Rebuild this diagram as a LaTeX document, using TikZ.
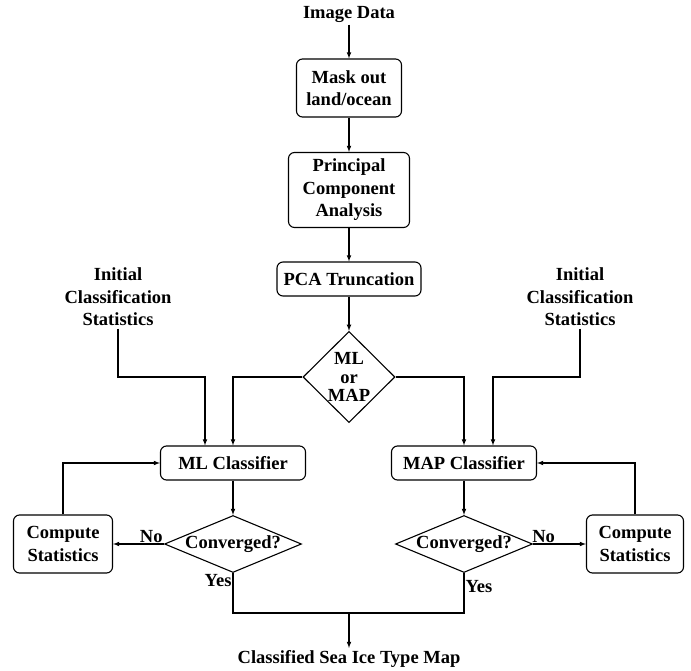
\documentclass[tikz,border=0pt]{standalone}
\usepackage{fontspec}
\setmainfont{Liberation Serif}
\usepackage{tikz}
\usetikzlibrary{shapes.geometric}

\begin{document}
\begin{tikzpicture}[x=1pt, y=-1pt, >=latex, line width=1.1pt,
  txt/.style={font=\fontsize{18.5}{22.5}\selectfont\bfseries, align=center, inner sep=2pt},
  box/.style={txt, draw, rounded corners=6pt, minimum height=34pt},
  choice/.style={txt, draw, diamond, inner sep=0pt, font=\fontsize{18.5}{18.5}\selectfont\bfseries},
  lbl/.style={txt, inner sep=1pt}]
\useasboundingbox (0,0) rectangle (691,671);
\node[txt] (data) at (349,14) {Image Data};
\node[box, minimum width=105pt, minimum height=58pt] (mask) at (349,88) {Mask out\\land/ocean};
\node[box, minimum width=121pt, minimum height=75pt] (pca) at (349,190) {Principal\\Component\\Analysis};
\node[box, minimum width=144pt] (trunc) at (349,279) {PCA Truncation};
\node[choice, minimum width=92pt, minimum height=90pt] (mlmap) at (349,377) {ML\\or\\MAP};
\node[txt] (linit) at (118,297) {Initial\\Classification\\Statistics};
\node[txt] (rinit) at (580,297) {Initial\\Classification\\Statistics};
\node[box, minimum width=145pt] (ml) at (233,463) {ML Classifier};
\node[box, minimum width=145pt] (map) at (464,463) {MAP Classifier};
\node[choice, aspect=2.4, minimum width=137pt, minimum height=57pt] (lconv) at (233,544) {Converged?};
\node[choice, aspect=2.4, minimum width=137pt, minimum height=57pt] (rconv) at (464,544) {Converged?};
\node[box, minimum width=99pt, minimum height=58pt] (lstat) at (63,544) {Compute\\Statistics};
\node[box, minimum width=97pt, minimum height=58pt] (rstat) at (635,544) {Compute\\Statistics};
\coordinate (join) at (349,613);
\node[txt] (res) at (349,659) {Classified Sea Ice Type Map};
\draw[->] (data) -- (mask);
\draw[->] (mask) -- (pca);
\draw[->] (pca) -- (trunc);
\draw[->] (trunc) -- (mlmap);
\draw[->] (mlmap.west) -| (ml.north);
\draw[->] (mlmap.east) -| (map.north);
\draw[->] (linit.south) |- ([xshift=-28pt]ml.north |- mlmap.west) -- ([xshift=-28pt]ml.north);
\draw[->] (rinit.south) |- ([xshift=29pt]map.north |- mlmap.east) -- ([xshift=29pt]map.north);
\draw[->] (ml) -- (lconv);
\draw[->] (map) -- (rconv);
\draw[->] (lconv.west) -- (lstat.east) node[lbl, pos=0.25, above] (lno) {No};
\draw[->] (rconv.east) -- (rstat.west) node[lbl, pos=0.2, above] (rno) {No};
\draw[->] (lstat.north) |- (ml.west);
\draw[->] (rstat.north) |- (map.east);
\draw (lconv.south) |- (join) node[lbl, pos=0, anchor=north east] (lyes) {Yes};
\draw (rconv.south) |- (join) node[lbl, pos=0, anchor=north west, yshift=-6pt] (ryes) {Yes};
\draw[->] (join) -- (res);
\end{tikzpicture}
\end{document}
